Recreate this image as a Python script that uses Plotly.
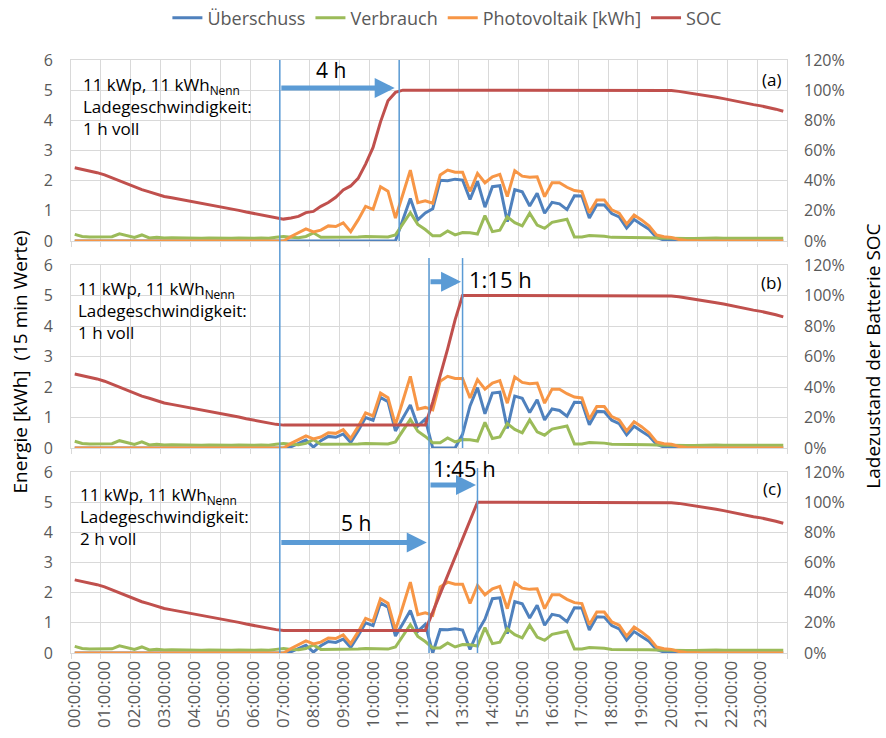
import plotly.graph_objects as go
from plotly.subplots import make_subplots

# ---------------- data (15-min values, 96 per day) ----------------
zeit = [f"{h:02d}:{m:02d}:00" for h in range(24) for m in (0, 15, 30, 45)]
stunden_labels = ["00:00:00", "01:00:00", "02:00:00", "03:00:00", "04:00:00", "05:00:00",
                  "06:00:00", "07:00:00", "08:00:00", "09:00:00", "10:00:00", "11:00:00",
                  "12:00:00", "13:00:00", "14:00:00", "15:00:00", "16:00:00", "17:00:00",
                  "18:00:00", "19:00:00", "20:00:00", "21:00:00", "22:00:00", "23:00:00"]

photovoltaik = [
    0, 0, 0, 0, 0, 0, 0, 0, 0, 0, 0, 0, 0, 0, 0, 0,
    0, 0, 0, 0, 0, 0, 0, 0, 0, 0, 0, 0, 0.00, 0.15, 0.28, 0.40,
    0.30, 0.36, 0.50, 0.48, 0.60, 0.31, 0.70, 1.15, 1.05, 1.80, 1.65, 0.76, 1.55, 2.35, 1.27, 1.33,
    1.25, 2.19, 2.35, 2.28, 2.28, 1.64, 2.24, 1.93, 2.13, 2.21, 1.47, 2.33, 2.15, 2.11, 2.13, 1.47,
    1.93, 1.93, 1.78, 1.67, 1.64, 0.94, 1.36, 1.36, 1.03, 0.92, 0.56, 0.86, 0.70, 0.50, 0.20, 0.14,
    0.12, 0.05, 0.02, 0, 0, 0, 0, 0, 0, 0, 0, 0, 0, 0, 0, 0]

verbrauch = [
    0.22, 0.15, 0.13, 0.13, 0.13, 0.14, 0.24, 0.18, 0.12, 0.20, 0.10, 0.12, 0.10, 0.11, 0.10, 0.10,
    0.09, 0.09, 0.10, 0.09, 0.10, 0.09, 0.10, 0.09, 0.09, 0.10, 0.09, 0.12, 0.15, 0.12, 0.11, 0.15,
    0.27, 0.12, 0.12, 0.13, 0.14, 0.13, 0.13, 0.15, 0.14, 0.14, 0.13, 0.20, 0.57, 0.94, 0.55, 0.38,
    0.17, 0.17, 0.33, 0.20, 0.28, 0.27, 0.23, 0.84, 0.31, 0.36, 0.80, 0.61, 0.50, 0.92, 0.53, 0.42,
    0.62, 0.67, 0.72, 0.13, 0.13, 0.18, 0.17, 0.16, 0.12, 0.12, 0.13, 0.13, 0.12, 0.11, 0.10, 0.09,
    0.09, 0.09, 0.08, 0.08, 0.09, 0.10, 0.10, 0.09, 0.09, 0.08, 0.08, 0.07, 0.08, 0.08, 0.09, 0.09]

ueberschuss_a = [
    0, 0, 0, 0, 0, 0, 0, 0, 0, 0, 0, 0, 0, 0, 0, 0,
    0, 0, 0, 0, 0, 0, 0, 0, 0, 0, 0, 0, 0, 0, 0, 0,
    0, 0, 0, 0, 0, 0, 0, 0, 0, 0, 0, 0, 0.70, 1.41, 0.70, 0.93,
    1.07, 2.01, 2.00, 2.05, 2.02, 1.38, 1.98, 1.12, 1.80, 1.83, 0.64, 1.70, 1.63, 1.16, 1.58, 0.92,
    1.28, 1.23, 1.04, 1.50, 1.49, 0.76, 1.20, 1.19, 0.91, 0.80, 0.43, 0.71, 0.55, 0.39, 0.12, 0.03,
    0.02, 0, 0, 0, 0, 0, 0, 0, 0, 0, 0, 0, 0, 0, 0, 0]

ueberschuss_b = [
    0, 0, 0, 0, 0, 0, 0, 0, 0, 0, 0, 0, 0, 0, 0, 0,
    0, 0, 0, 0, 0, 0, 0, 0, 0, 0, 0, 0, 0.00, 0.04, 0.16, 0.26,
    0.03, 0.24, 0.38, 0.35, 0.46, 0.18, 0.57, 1.00, 0.91, 1.66, 1.52, 0.56, 0.98, 1.41, 0.72, 0.95,
    0, 0, 0, 0, 0.45, 1.38, 1.98, 1.12, 1.80, 1.83, 0.64, 1.70, 1.63, 1.16, 1.58, 0.92,
    1.28, 1.23, 1.04, 1.50, 1.49, 0.76, 1.20, 1.19, 0.91, 0.80, 0.43, 0.71, 0.55, 0.39, 0.12, 0.03,
    0.02, 0, 0, 0, 0, 0, 0, 0, 0, 0, 0, 0, 0, 0, 0, 0]

ueberschuss_c = [
    0, 0, 0, 0, 0, 0, 0, 0, 0, 0, 0, 0, 0, 0, 0, 0,
    0, 0, 0, 0, 0, 0, 0, 0, 0, 0, 0, 0, 0.00, 0.04, 0.16, 0.26,
    0.03, 0.24, 0.38, 0.35, 0.46, 0.18, 0.57, 1.00, 0.91, 1.66, 1.52, 0.56, 0.98, 1.41, 0.72, 0.95,
    0.00, 0.78, 0.77, 0.80, 0.76, 0.12, 0.70, 1.12, 1.80, 1.83, 0.64, 1.70, 1.63, 1.16, 1.58, 0.92,
    1.28, 1.23, 1.04, 1.50, 1.49, 0.76, 1.20, 1.19, 0.91, 0.80, 0.43, 0.71, 0.55, 0.39, 0.12, 0.03,
    0.02, 0, 0, 0, 0, 0, 0, 0, 0, 0, 0, 0, 0, 0, 0, 0]

soc_a = [
    48.5, 47.5, 46.5, 45.3, 43.8, 41.8, 39.5, 37.6, 35.6, 34.0, 32.6, 30.8, 29.5, 28.6, 27.7, 26.8,
    25.9, 25.1, 24.3, 23.5, 22.4, 21.3, 20.3, 19.2, 18.2, 17.4, 16.6, 15.5, 14.5, 15.2, 16.3, 18.8,
    19.6, 23.0, 25.5, 29.0, 33.8, 36.5, 41.5, 51.0, 62.0, 79.0, 93.0, 98.5, 100, 100, 100, 100,
    100, 100, 100, 100, 100, 100, 100, 100, 100, 100, 100, 100, 100, 100, 100, 100,
    100, 100, 100, 100, 100, 100, 100, 100, 100, 100, 100, 100, 100, 100, 100, 100,
    99.7, 99.2, 98.5, 97.8, 97.0, 96.2, 95.3, 94.4, 93.3, 92.3, 91.3, 90.4, 89.6, 88.6, 87.4, 86.0]

soc_b = [
    48.5, 47.5, 46.5, 45.3, 43.8, 41.8, 39.5, 37.6, 35.6, 34.0, 32.6, 30.8, 29.5, 28.6, 27.7, 26.8,
    25.9, 25.1, 24.3, 23.5, 22.4, 21.3, 20.3, 19.2, 18.2, 17.4, 16.6, 15.5, 15.0, 15.0, 15.0, 15.0,
    15.0, 15.0, 15.0, 15.0, 15.0, 15.0, 15.0, 15.0, 15.0, 15.0, 15.0, 15.0, 15.0, 15.0, 15.0, 15.0,
    30.0, 47.0, 65.0, 84.0, 100, 100, 100, 100, 100, 100, 100, 100, 100, 100, 100, 100,
    100, 100, 100, 100, 100, 100, 100, 100, 100, 100, 100, 100, 100, 100, 100, 100,
    99.7, 99.2, 98.5, 97.8, 97.0, 96.2, 95.3, 94.4, 93.3, 92.3, 91.3, 90.4, 89.6, 88.6, 87.4, 86.0]

soc_c = [
    48.5, 47.5, 46.5, 45.3, 43.8, 41.8, 39.5, 37.6, 35.6, 34.0, 32.6, 30.8, 29.5, 28.6, 27.7, 26.8,
    25.9, 25.1, 24.3, 23.5, 22.4, 21.3, 20.3, 19.2, 18.2, 17.4, 16.6, 15.5, 15.0, 15.0, 15.0, 15.0,
    15.0, 15.0, 15.0, 15.0, 15.0, 15.0, 15.0, 15.0, 15.0, 15.0, 15.0, 15.0, 15.0, 15.0, 15.0, 15.0,
    27.1, 39.3, 51.4, 63.6, 75.7, 87.9, 100, 100, 100, 100, 100, 100, 100, 100, 100, 100,
    100, 100, 100, 100, 100, 100, 100, 100, 100, 100, 100, 100, 100, 100, 100, 100,
    99.7, 99.2, 98.5, 97.8, 97.0, 96.2, 95.3, 94.4, 93.3, 92.3, 91.3, 90.4, 89.6, 88.6, 87.4, 86.0]

panel_texte = ["11 kWp, 11 kWh<sub>Nenn</sub><br>Ladegeschwindigkeit:<br>1 h voll",
               "11 kWp, 11 kWh<sub>Nenn</sub><br>Ladegeschwindigkeit:<br>1 h voll",
               "11 kWp, 11 kWh<sub>Nenn</sub><br>Ladegeschwindigkeit:<br>2 h voll"]
panel_namen = ["(a)", "(b)", "(c)"]

# ---------------- styles ----------------
BLUE = "#4F81BD"
GREEN = "#9BBB59"
ORANGE = "#F79646"
RED = "#C0504D"
MARK = "#5B9BD5"
GRID = "#D9D9D9"
TICK = "#595959"
FONT = "Open Sans"

pos = list(range(len(zeit)))          # category index positions
hour_ticks = pos[::4]
boundaries = [p - 0.5 for p in hour_ticks] + [len(zeit) - 0.5]

fig = make_subplots(rows=3, cols=1, shared_xaxes=True,
                    specs=[[{"secondary_y": True}]] * 3, vertical_spacing=0.04)

panels = [(ueberschuss_a, soc_a), (ueberschuss_b, soc_b), (ueberschuss_c, soc_c)]
for r, (ue, soc) in enumerate(panels, start=1):
    first = (r == 1)
    fig.add_trace(go.Scatter(x=pos, y=ue, name="Überschuss", mode="lines", text=zeit,
                             line=dict(color=BLUE, width=3), showlegend=first, legendgroup="ue"),
                  row=r, col=1, secondary_y=False)
    fig.add_trace(go.Scatter(x=pos, y=verbrauch, name="Verbrauch", mode="lines", text=zeit,
                             line=dict(color=GREEN, width=3), showlegend=first, legendgroup="vb"),
                  row=r, col=1, secondary_y=False)
    fig.add_trace(go.Scatter(x=pos, y=photovoltaik, name="Photovoltaik [kWh]", mode="lines", text=zeit,
                             line=dict(color=ORANGE, width=3), showlegend=first, legendgroup="pv"),
                  row=r, col=1, secondary_y=False)
    fig.add_trace(go.Scatter(x=pos, y=soc, name="SOC", mode="lines", text=zeit,
                             line=dict(color=RED, width=3), showlegend=first, legendgroup="soc"),
                  row=r, col=1, secondary_y=True)

domains = [[0.6948, 1.0], [0.3457, 0.6543], [0.0, 0.3052]]
for r, dom in enumerate(domains, start=1):
    fig.update_yaxes(row=r, col=1, secondary_y=False, domain=dom, range=[0, 6], dtick=1,
                     showgrid=True, gridcolor=GRID, gridwidth=1, zeroline=False,
                     showline=True, linecolor=GRID, mirror=True, ticks="",
                     ticklabelstandoff=14, tickfont=dict(size=16, color=TICK, family=FONT))
    fig.update_yaxes(row=r, col=1, secondary_y=True, range=[0, 120], dtick=20, ticksuffix="%",
                     showgrid=False, zeroline=False, showline=False, ticks="",
                     ticklabelstandoff=16, tickfont=dict(size=16, color=TICK, family=FONT))

fig.update_xaxes(domain=[0, 1], range=[-0.5, len(zeit) - 0.5], tickmode="array", tickvals=hour_ticks,
                 ticktext=stunden_labels, tickangle=-90, showgrid=False, zeroline=False,
                 showline=True, linecolor=GRID, mirror=True, ticks="",
                 tickfont=dict(size=17, color=TICK, family=FONT),
                 minor=dict(tickmode="array", tickvals=boundaries, showgrid=True, gridcolor=GRID,
                            gridwidth=1, ticks="outside", ticklen=5, tickcolor=GRID))

# ---------------- annotations / markings ----------------
ann = []
shapes = []
xr = ["x", "x2", "x3"]
yr = ["y", "y3", "y5"]
text_pos = [(0.84, 4.45), (0.17, 4.52), (0.44, 4.54)]
label_y = [5.36, 5.42, 5.47]
for i in range(3):
    ann.append(dict(xref=xr[i], yref=yr[i], x=text_pos[i][0], y=text_pos[i][1], text=panel_texte[i],
                    showarrow=False, xanchor="left", yanchor="middle", align="left",
                    font=dict(size=17, color="black", family=FONT)))
    ann.append(dict(xref=xr[i], yref=yr[i], x=95.0, y=label_y[i], text=panel_namen[i],
                    showarrow=False, xanchor="right", yanchor="middle",
                    font=dict(size=17, color="black", family=FONT)))

def arrow(xref, yref, x_tail, x_tip, yv):
    return dict(xref=xref, yref=yref, axref=xref, ayref=yref, x=x_tip, y=yv, ax=x_tail, ay=yv,
                text="", showarrow=True, arrowhead=2, arrowsize=0.8, arrowwidth=5,
                arrowcolor=MARK, standoff=0, startstandoff=0)

ann.append(arrow("x", "y", 27.5, 42.9, 5.07))
ann.append(dict(xref="x", yref="y", x=34.4, y=5.66, text="4 h", showarrow=False,
                xanchor="center", yanchor="middle", font=dict(size=21, color="black", family=FONT)))
ann.append(arrow("x2", "y3", 47.5, 51.8, 5.45))
ann.append(dict(xref="x2", yref="y3", x=52.6, y=5.54, text="1:15 h", showarrow=False, xanchor="left",
                yanchor="middle", font=dict(size=22, color="black", family=FONT)))
ann.append(arrow("x3", "y5", 27.5, 47.2, 3.66))
ann.append(dict(xref="x3", yref="y5", x=37.7, y=4.31, text="5 h", showarrow=False,
                xanchor="center", yanchor="middle", font=dict(size=21, color="black", family=FONT)))
ann.append(arrow("x3", "y5", 47.5, 53.8, 5.57))
ann.append(dict(xref="x3", yref="paper", x=52.3, y=0.3125, text="1:45 h", showarrow=False,
                xanchor="center", yanchor="middle", font=dict(size=22, color="black", family=FONT)))

# axis titles
ann.append(dict(xref="paper", yref="paper", x=-0.0712, y=0.49, xanchor="center", yanchor="middle",
                text="Energie [kWh]\u00a0\u00a0(15 min Werte)", textangle=-90, showarrow=False,
                font=dict(size=19, color="black", family=FONT)))
ann.append(dict(xref="paper", yref="paper", x=1.119, y=0.50, xanchor="center", yanchor="middle",
                text="Ladezustand der Batterie SOC", textangle=-90, showarrow=False,
                font=dict(size=19, color="black", family=FONT)))

vline = dict(color=MARK, width=1.5)
shapes.append(dict(type="line", xref="x", yref="paper", x0=27.5, x1=27.5, y0=0, y1=1, line=vline))
shapes.append(dict(type="line", xref="x", yref="y", x0=43.5, x1=43.5, y0=0, y1=6.1, line=vline))
shapes.append(dict(type="line", xref="x", yref="paper", x0=47.5, x1=47.5, y0=0, y1=0.666, line=vline))
shapes.append(dict(type="line", xref="x", yref="paper", x0=52.0, x1=52.0, y0=0.3457, y1=0.666, line=vline))
shapes.append(dict(type="line", xref="x", yref="paper", x0=54.0, x1=54.0, y0=0, y1=0.312, line=vline))

fig.update_layout(
    width=886, height=738,
    margin=dict(l=71, r=99, t=60, b=85, autoexpand=False),
    plot_bgcolor="white", paper_bgcolor="white",
    font=dict(family=FONT, size=16, color=TICK),
    legend=dict(orientation="h", x=0.525, xanchor="center", y=1.0708, yanchor="middle",
                font=dict(size=18, color=TICK, family=FONT), itemwidth=30, bgcolor="rgba(0,0,0,0)"),
    annotations=ann, shapes=shapes, hovermode=False,
)

fig.write_html("out.html")
